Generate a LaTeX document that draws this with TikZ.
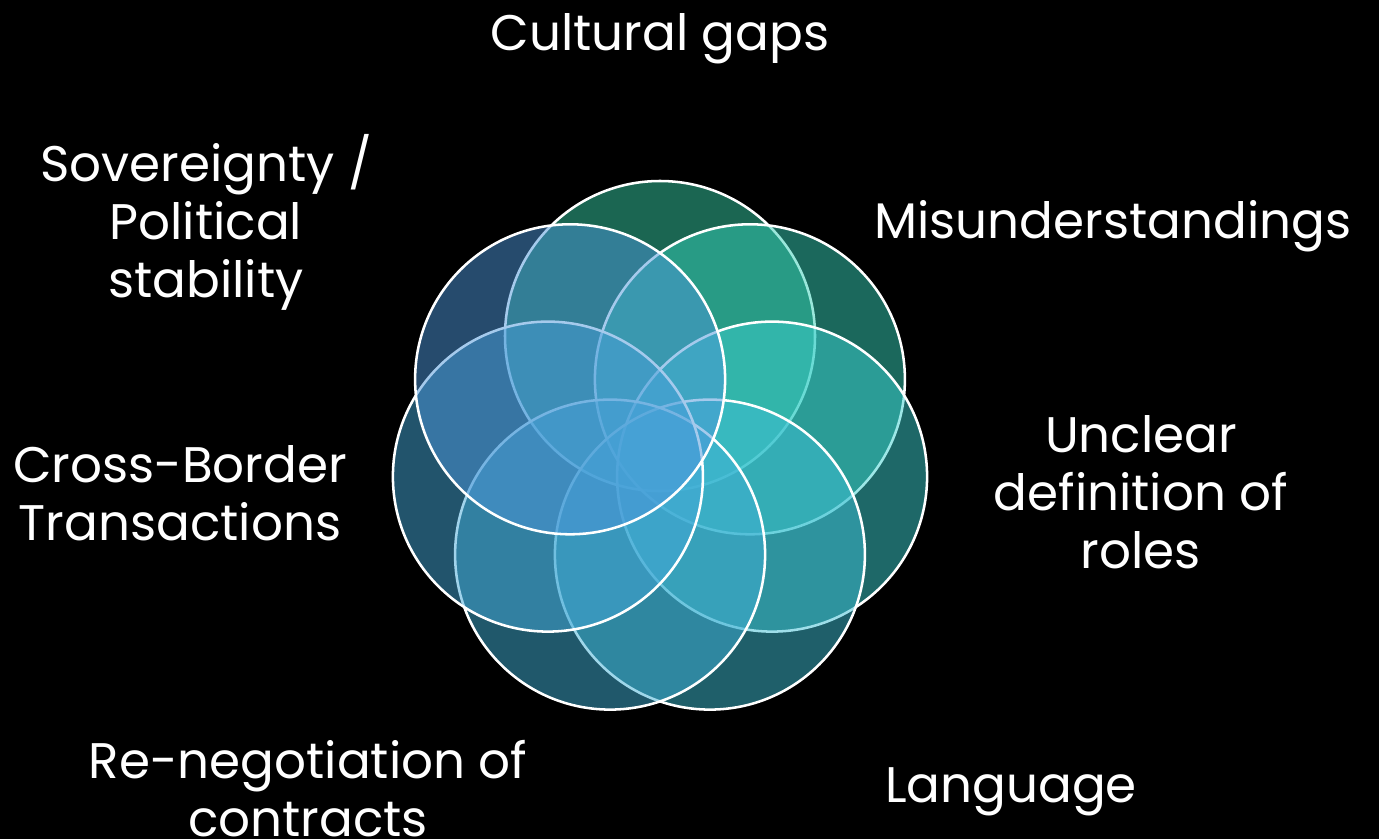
\documentclass[tikz,border=0pt]{standalone}
\usepackage{fontspec}
\setmainfont{Poppins}
\definecolor{vennA}{RGB}{54,204,164}
\definecolor{vennB}{RGB}{54,208,184}
\definecolor{vennC}{RGB}{60,208,208}
\definecolor{vennD}{RGB}{62,190,212}
\definecolor{vennE}{RGB}{64,176,214}
\definecolor{vennF}{RGB}{68,168,216}
\definecolor{vennG}{RGB}{76,150,218}
\begin{document}
\begin{tikzpicture}[x=0.75pt,y=0.75pt,yscale=-1,xscale=1,
  venn/.style={circle,draw=white,line width=1.9pt,fill opacity=0.5,minimum size=232.5pt,inner sep=0pt},
  lbl/.style={text=white,font=\fontsize{37.5}{43.5}\selectfont,align=center,anchor=base,inner sep=0pt}]
%background
\fill[black] (0,0) rectangle (1379,839);
\useasboundingbox (0,0) rectangle (1379,839);

%Circles
\node[venn,fill=vennA] (cult) at (660,336) {};
\node[venn,fill=vennB] (misu) at (749.9,379.3) {};
\node[venn,fill=vennC] (uncl) at (772.1,476.6) {};
\node[venn,fill=vennD] (lang) at (709.9,554.6) {};
\node[venn,fill=vennE] (reneg) at (610.1,554.6) {};
\node[venn,fill=vennF] (cross) at (547.9,476.6) {};
\node[venn,fill=vennG] (sover) at (570.1,379.3) {};

% Text Node (anchored at the baseline of the last line)
\node[lbl] (tcult) at (660,50) {Cultural gaps};
% Text Node
\node[lbl] (tmisu) at (1113,238) {Misunderstandings};
% Text Node
\node[lbl] (tuncl) at (1141,568) {Unclear\\definition of\\roles};
% Text Node
\node[lbl] (tlang) at (1011,802) {Language};
% Text Node
\node[lbl] (treneg) at (308,836) {Re-negotiation of\\contracts};
% Text Node
\node[lbl] (tcross) at (180,540) {Cross-Border\\Transactions};
% Text Node
\node[lbl] (tsover) at (206,297) {Sovereignty /\\Political\\stability};

\end{tikzpicture}
\end{document}
